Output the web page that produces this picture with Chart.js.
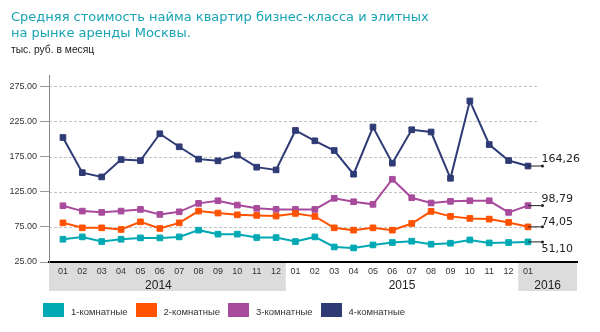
<!DOCTYPE html>
<html>
<head>
<meta charset="utf-8">
<script src="https://cdn.jsdelivr.net/npm/chart.js@4"></script>
<style>
  body { margin: 0; background: #fff; }
  #wrap { position: relative; width: 600px; height: 332px; overflow: hidden; }
  #c { position: absolute; left: 0; top: 0; }
  .title { position: absolute; left: 11px; top: 9px; font: 13px 'DejaVu Sans'; color: #17a4b5; line-height: 16px; white-space: nowrap; }
  .sub { position: absolute; left: 11px; top: 44px; font: 10.3px 'Liberation Sans'; color: #222; }
  .item { position: absolute; top: 303px; height: 14px; font: 9.5px 'Liberation Sans'; color: #333; white-space: nowrap; }
  .box { position: absolute; left: 0; top: 0; width: 21px; height: 14px; }
  .txt { position: absolute; left: 28px; top: 3px; }
</style>
</head>
<body>
<div id="wrap">
  <canvas id="c" width="600" height="332"></canvas>
  <div class="title">Средняя стоимость найма квартир бизнес-класса и элитных<br>на рынке аренды Москвы.</div>
  <div class="sub">тыс. руб. в месяц</div>
  <div id="legend"></div>
</div>
<script>
const months = ['01','02','03','04','05','06','07','08','09','10','11','12',
                '01','02','03','04','05','06','07','08','09','10','11','12','01'];
const years = ['2014', '2015', '2016'];
const yearFirst = [0, 12, 24];
const yearLast = [11, 23, 24];
const yTicks = [25, 75, 125, 175, 225, 275];

const seriesNames = ['1-комнатные', '2-комнатные', '3-комнатные', '4-комнатные'];
const oneRoom = [57.4, 60.7, 54.1, 57.4, 59.3, 59.3, 60.7, 70.3, 64.6, 64.6, 59.8, 59.8,
                 54.1, 60.7, 46.4, 45.0, 49.3, 52.7, 54.6, 50.3, 51.7, 56.4, 52.1, 52.7, 53.6];
const twoRoom = [80.7, 73.6, 73.6, 71.3, 82.1, 72.7, 80.7, 97.4, 94.6, 92.1, 91.3, 90.3,
                 94.1, 89.9, 73.6, 70.3, 73.6, 70.3, 79.8, 97.0, 89.9, 87.0, 86.0, 81.3, 75.0];
const threeRoom = [105.0, 97.4, 95.6, 97.4, 99.8, 92.7, 96.4, 108.4, 112.1, 106.0, 101.3, 99.8,
                   99.8, 99.8, 115.6, 110.7, 107.0, 142.7, 116.4, 108.9, 111.3, 112.1, 112.1, 95.6, 105.2];
const fourRoom = [202.1, 152.1, 146.0, 170.7, 169.3, 207.4, 188.9, 171.3, 168.9, 177.0, 159.9, 156.0,
                  212.1, 197.4, 183.6, 149.9, 217.0, 165.6, 213.1, 209.9, 144.1, 254.1, 192.1, 169.3, 161.5];
const lastLabels = ['51,10', '74,05', '98,79', '164,26'];

const colors = ['#00a9b3', '#ff5200', '#a84b9c', '#2f3b75'];
const labelShift = [7, -5, -6, -7];
const yearShaded = [true, false, true];
const yearShift = [-9, 0, 0];

// legend
const legendEl = document.getElementById('legend');
seriesNames.forEach((name, i) => {
  const it = document.createElement('div');
  it.className = 'item';
  it.style.left = (43 + i * 92.5) + 'px';
  it.innerHTML = '<span class="box" style="background:' + colors[i] + '"></span><span class="txt">' + name + '</span>';
  legendEl.appendChild(it);
});

const allSeries = [oneRoom, twoRoom, threeRoom, fourRoom];
const xIdx = months.map((m, i) => i);

function yearSpan(i, x, a) {
  const l = i === 0 ? a.left : x.getPixelForValue(yearFirst[i] - 0.5);
  const r = i === years.length - 1 ? a.right : x.getPixelForValue(yearLast[i] + 0.5);
  return [l, r];
}

const decor = {
  id: 'decor',
  beforeDraw(chart) {
    const { ctx, chartArea: a, scales: { x, y } } = chart;
    ctx.save();
    ctx.fillStyle = '#dcdcdc';
    years.forEach((yr, i) => {
      if (!yearShaded[i]) return;
      const [l, r] = yearSpan(i, x, a);
      ctx.fillRect(l, a.bottom + 1, r - l, 28);
    });
    ctx.strokeStyle = '#c2c2c2';
    ctx.setLineDash([3, 2]);
    ctx.lineWidth = 1;
    const gx = x.getPixelForValue(months.length - 0.48);
    yTicks.slice(1).forEach(v => {
      const py = Math.round(y.getPixelForValue(v)) + 0.5;
      ctx.beginPath();
      ctx.moveTo(a.left, py);
      ctx.lineTo(gx, py);
      ctx.stroke();
    });
    ctx.restore();
  },
  afterDraw(chart) {
    const { ctx, chartArea: a, scales: { x, y } } = chart;
    ctx.save();
    // year labels
    ctx.fillStyle = '#222';
    ctx.font = '12px "Liberation Sans"';
    ctx.textAlign = 'center';
    ctx.textBaseline = 'middle';
    years.forEach((yr, i) => {
      const [l, r] = yearSpan(i, x, a);
      ctx.fillText(yr, (l + r) / 2 + yearShift[i], a.bottom + 23.5);
    });
    // last value callouts
    const n = months.length - 1;
    const ex = x.getPixelForValue(n + 0.75);
    ctx.font = '11px "DejaVu Sans"';
    ctx.textAlign = 'left';
    allSeries.forEach((s, i) => {
      const px = x.getPixelForValue(n);
      const py = y.getPixelForValue(s[n]);
      ctx.strokeStyle = '#222';
      ctx.lineWidth = 1;
      ctx.beginPath();
      ctx.moveTo(px, py);
      ctx.lineTo(ex, py);
      ctx.stroke();
      ctx.fillStyle = '#222';
      ctx.beginPath();
      ctx.arc(ex, py, 1.5, 0, Math.PI * 2);
      ctx.fill();
      ctx.fillText(lastLabels[i], ex - 1, py + labelShift[i]);
    });
    ctx.restore();
  }
};

new Chart(document.getElementById('c'), {
  type: 'line',
  data: {
    datasets: allSeries.map((s, i) => ({
      label: seriesNames[i],
      data: s.map((v, j) => ({ x: xIdx[j], y: v })),
      borderColor: colors[i],
      backgroundColor: colors[i],
      borderWidth: 2,
      pointStyle: 'rect',
      pointRadius: 4,
      pointBorderWidth: 1,
      tension: 0
    }))
  },
  options: {
    responsive: false,
    animation: false,
    layout: { padding: { top: 75, right: 23, left: 0, bottom: 0 } },
    plugins: { legend: { display: false }, tooltip: { enabled: false } },
    scales: {
      x: {
        type: 'linear',
        min: -0.72,
        max: 26.53,
        afterBuildTicks: s => { s.ticks = xIdx.map(v => ({ value: v })); },
        afterFit: s => { s.height = 70; },
        grid: { display: false, drawTicks: false },
        border: { display: true, color: '#000', width: 2 },
        ticks: {
          autoSkip: false,
          maxRotation: 0,
          padding: 4,
          color: '#333',
          font: { family: 'Liberation Sans', size: 9 },
          callback: v => months[v]
        }
      },
      y: {
        min: 25,
        max: 291,
        afterBuildTicks: s => { s.ticks = yTicks.map(v => ({ value: v })); },
        afterFit: s => { s.width = 49; },
        grid: { drawOnChartArea: false, color: '#999', tickLength: 9 },
        border: { display: true, color: '#888', width: 1 },
        ticks: {
          padding: 3,
          color: '#333',
          font: { family: 'Liberation Sans', size: 9 },
          callback: v => v.toFixed(2)
        }
      }
    }
  },
  plugins: [decor]
});
</script>
</body>
</html>
